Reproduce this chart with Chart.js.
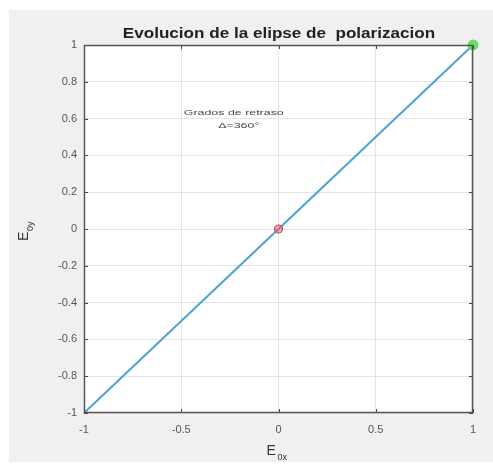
<!DOCTYPE html>
<html>
<head>
<meta charset="utf-8">
<script src="https://cdn.jsdelivr.net/npm/chart.js@4.4.1/dist/chart.umd.min.js"></script>
<style>
  html, body { margin: 0; padding: 0; background: #fff; }
  #wrap { width: 493px; height: 465px; position: relative; }
</style>
</head>
<body>
<div id="wrap"><canvas id="c" width="493" height="465"></canvas></div>
<script>
// ── Data ─────────────────────────────────────────────
const lineX   = [-1, 1];
const lineY   = [-1, 1];
const startPt = [0, 0];      // red circle
const endPt   = [1, 1];      // green marker
const xTicks  = [-1, -0.5, 0, 0.5, 1];
const yTicks  = [-1, -0.8, -0.6, -0.4, -0.2, 0, 0.2, 0.4, 0.6, 0.8, 1];
const titleText = 'Evolucion de la elipse de  polarizacion';
const noteLines = ['Grados de retraso', 'Δ=360°'];
const notePos   = [-0.23, 0.62];

const FONT = 'Liberation Sans, Arial, sans-serif';

// draw text stretched horizontally (source image is widened)
function wideText(c, txt, x, y, sx) {
  c.save();
  c.translate(x, y);
  c.scale(sx, 1);
  c.fillText(txt, 0, 0);
  c.restore();
}

// background + title + annotation + axis labels (with subscripts)
const decor = {
  id: 'decor',
  beforeDraw(chart) {
    const c = chart.ctx;
    c.save();
    c.fillStyle = '#f0f0f0';
    c.fillRect(9, 10, 484, 452);
    const a = chart.chartArea;
    c.fillStyle = '#ffffff';
    c.fillRect(a.left, a.top, a.right - a.left, a.bottom - a.top);
    c.restore();
  },
  afterDraw(chart) {
    const c = chart.ctx;
    const a = chart.chartArea;
    const xs = chart.scales.x, ys = chart.scales.y;
    c.save();
    // title
    c.fillStyle = '#222';
    c.font = 'bold 14px ' + FONT;
    c.textAlign = 'center';
    c.textBaseline = 'alphabetic';
    wideText(c, titleText, 279, 38, 1.22);

    // annotation
    c.font = '8px ' + FONT;
    c.fillStyle = '#444';
    const nx = xs.getPixelForValue(notePos[0]);
    const ny = ys.getPixelForValue(notePos[1]);
    wideText(c, noteLines[0], nx, ny, 1.55);
    wideText(c, noteLines[1], nx + 5, ny + 13, 1.55);

    // x label E0x
    c.fillStyle = '#333';
    c.textAlign = 'left';
    const cx = (a.left + a.right) / 2;
    c.font = '14px ' + FONT;
    c.fillText('E', cx - 12, 455);
    c.font = '9px ' + FONT;
    c.fillText('0x', cx - 1, 460);

    // y label E0y (rotated)
    c.translate(28, (a.top + a.bottom) / 2 + 2);
    c.rotate(-Math.PI / 2);
    c.font = '14px ' + FONT;
    c.fillText('E', -10, 0);
    c.font = '9px ' + FONT;
    c.fillText('0y', 0, 5);
    c.restore();

    // inward tick marks + box
    c.save();
    c.strokeStyle = '#444';
    c.lineWidth = 1;
    c.beginPath();
    xTicks.forEach(v => {
      const px = Math.round(xs.getPixelForValue(v)) + 0.5;
      c.moveTo(px, a.bottom); c.lineTo(px, a.bottom - 4);
      c.moveTo(px, a.top);    c.lineTo(px, a.top + 4);
    });
    yTicks.forEach(v => {
      const py = Math.round(ys.getPixelForValue(v)) + 0.5;
      c.moveTo(a.left, py);  c.lineTo(a.left + 4, py);
      c.moveTo(a.right, py); c.lineTo(a.right - 4, py);
    });
    c.stroke();
    c.strokeStyle = '#555';
    c.lineWidth = 1.5;
    c.strokeRect(a.left + 0.5, a.top + 0.5, a.right - a.left - 1, a.bottom - a.top - 1);
    c.restore();
  }
};

const ctx = document.getElementById('c').getContext('2d');
new Chart(ctx, {
  type: 'scatter',
  data: {
    datasets: [
      {
        data: lineX.map((x, i) => ({ x: x, y: lineY[i] })),
        showLine: true,
        borderColor: '#4aa3d8',
        borderWidth: 2,
        pointRadius: 0,
        order: 2
      },
      {
        data: [{ x: startPt[0], y: startPt[1] }],
        pointRadius: 4,
        borderColor: '#e04040',
        backgroundColor: 'rgba(200,110,130,0.55)',
        borderWidth: 1.2,
        order: 1
      },
      {
        data: [{ x: endPt[0], y: endPt[1] }],
        pointRadius: 5,
        borderColor: '#55dd55',
        backgroundColor: '#66e066',
        borderWidth: 1,
        order: 0
      }
    ]
  },
  options: {
    responsive: false,
    animation: false,
    clip: false,
    layout: { padding: { left: 0, right: 20, top: 45, bottom: 0 } },
    plugins: {
      legend: { display: false },
      tooltip: { enabled: false },
      title: { display: false }
    },
    scales: {
      x: {
        type: 'linear',
        min: -1, max: 1,
        afterFit: s => { s.height = 52; },
        afterBuildTicks: s => { s.ticks = xTicks.map(v => ({ value: v })); },
        grid: { color: '#e4e4e4', tickLength: 0, drawTicks: false },
        border: { display: false },
        ticks: {
          padding: 10,
          color: '#555',
          font: { size: 11, family: FONT },
          callback: v => String(v)
        }
      },
      y: {
        type: 'linear',
        min: -1, max: 1,
        afterFit: s => { s.width = 84; },
        afterBuildTicks: s => { s.ticks = yTicks.map(v => ({ value: v })); },
        grid: { color: '#e4e4e4', tickLength: 0, drawTicks: false },
        border: { display: false },
        ticks: {
          padding: 7,
          color: '#555',
          font: { size: 11, family: FONT },
          callback: v => String(Math.round(v * 10) / 10)
        }
      }
    }
  },
  plugins: [decor]
});
</script>
</body>
</html>
